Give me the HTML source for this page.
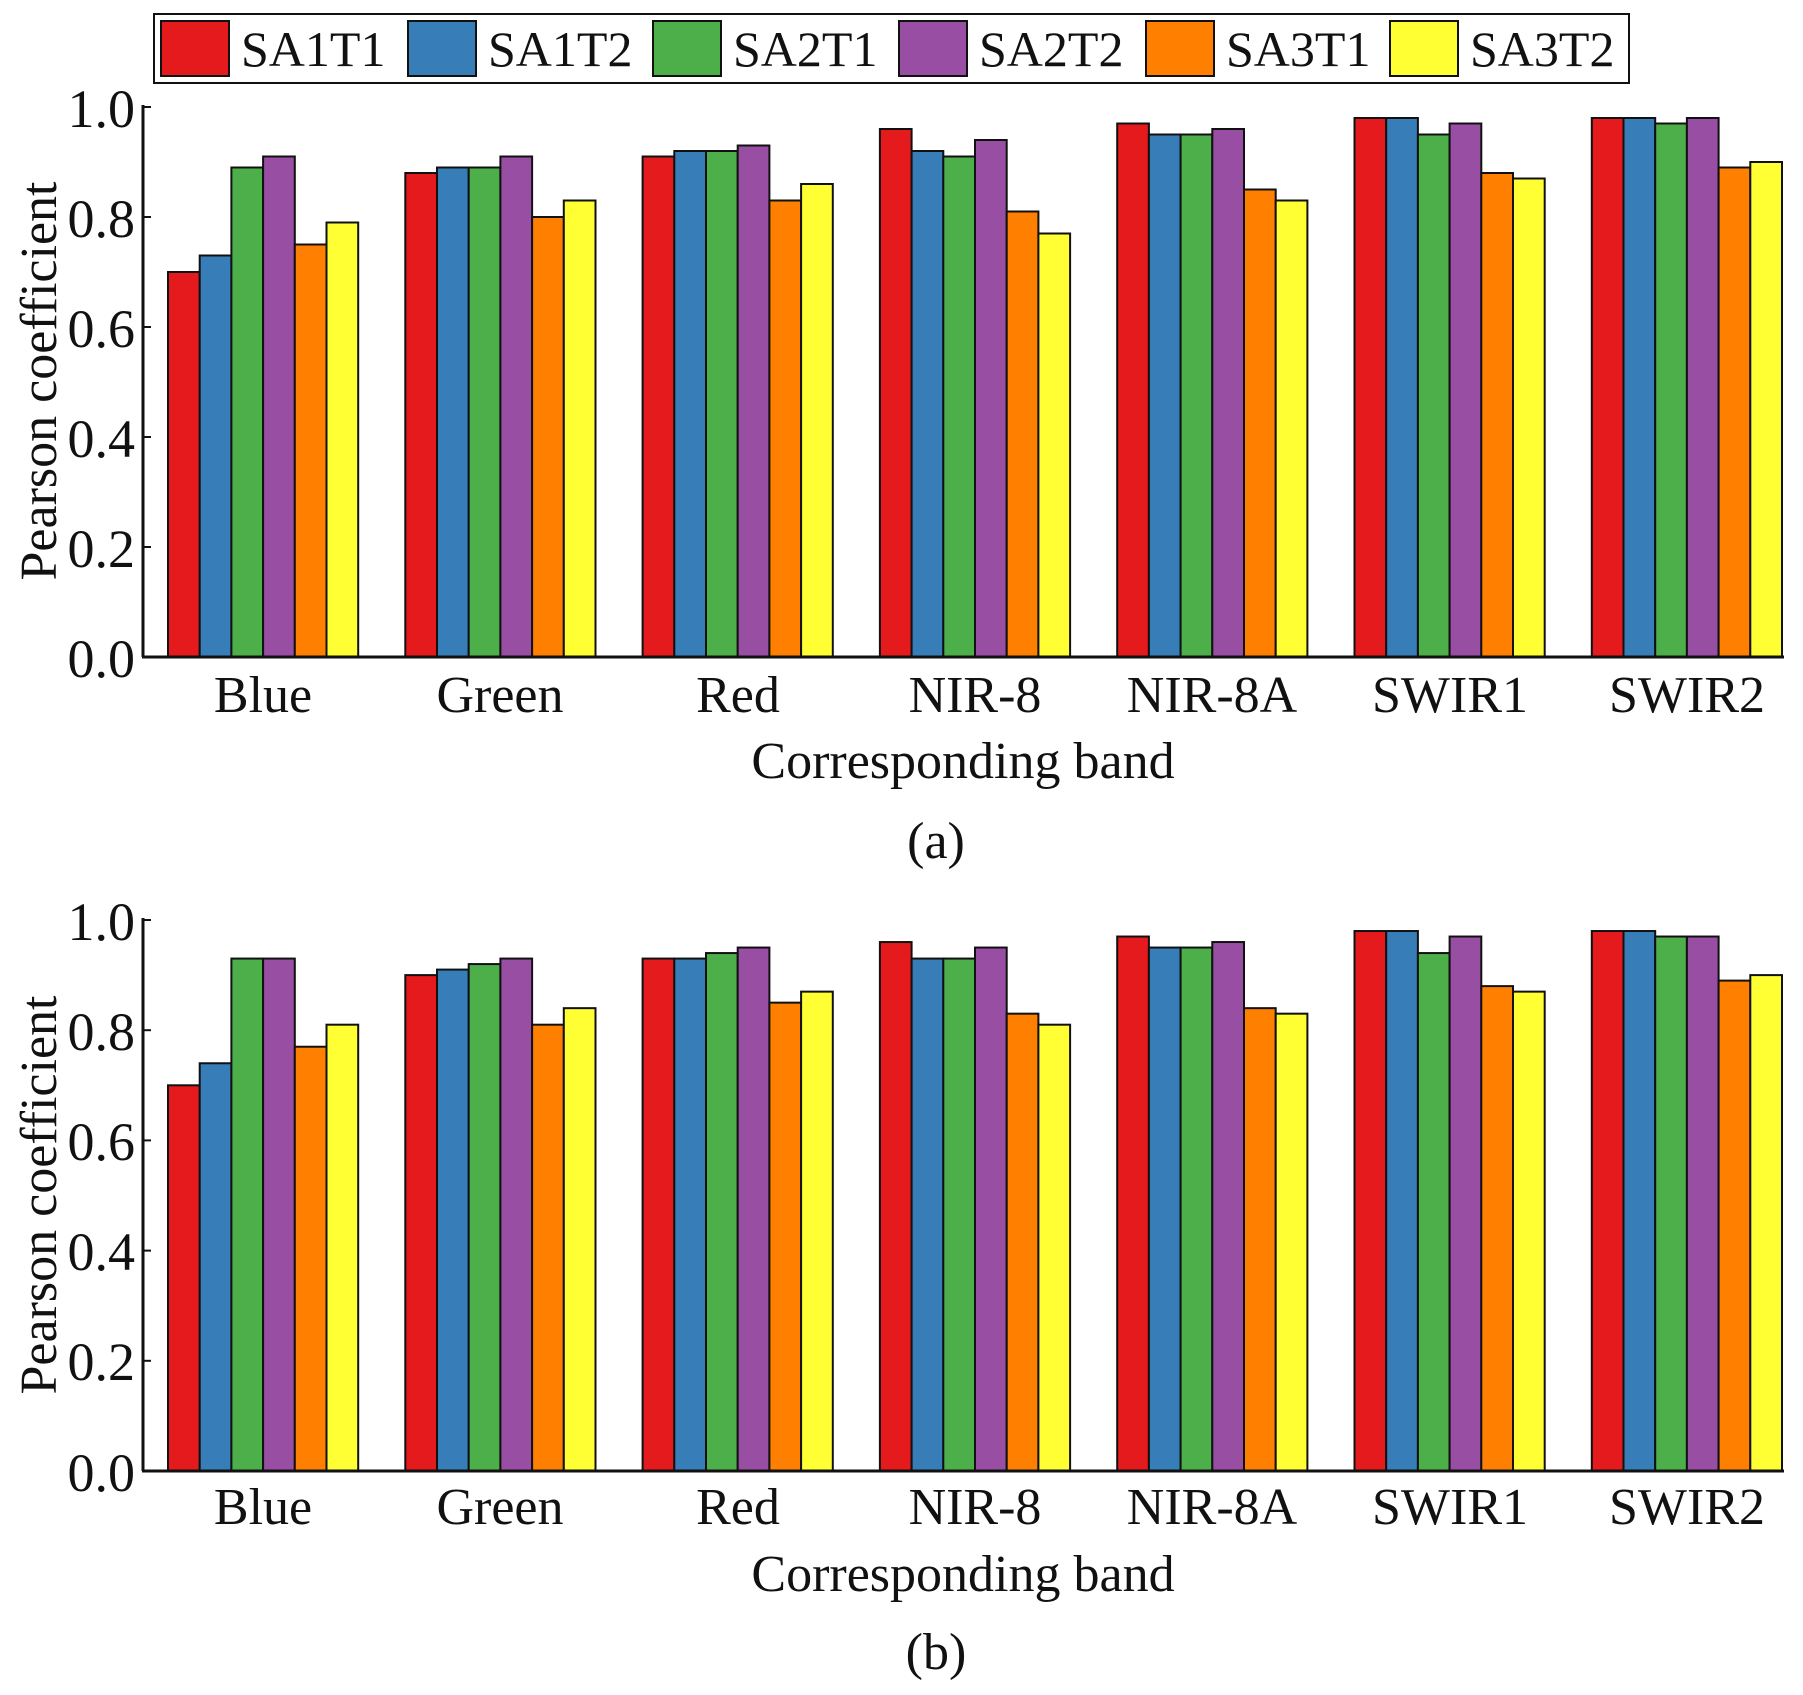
<!DOCTYPE html>
<html><head><meta charset="utf-8"><style>
html,body{margin:0;padding:0;background:#fff}
svg{display:block}
text{font-family:"Liberation Serif",serif;fill:#111}
</style></head><body>
<svg id="s" width="1803" height="1695" viewBox="0 0 1803 1695" xmlns="http://www.w3.org/2000/svg">
<rect x="154" y="14" width="1475" height="69" fill="#fff" stroke="#111" stroke-width="2"/>
<g font-size="50">
<rect x="161" y="21" width="68" height="55" fill="#e41a1c" stroke="#111" stroke-width="2"/><text x="241" y="66">SA1T1</text>
<rect x="408" y="21" width="68" height="55" fill="#377eb8" stroke="#111" stroke-width="2"/><text x="488" y="66">SA1T2</text>
<rect x="653" y="21" width="68" height="55" fill="#4daf4a" stroke="#111" stroke-width="2"/><text x="733" y="66">SA2T1</text>
<rect x="899" y="21" width="68" height="55" fill="#984ea3" stroke="#111" stroke-width="2"/><text x="979" y="66">SA2T2</text>
<rect x="1146" y="21" width="68" height="55" fill="#ff7f00" stroke="#111" stroke-width="2"/><text x="1226" y="66">SA3T1</text>
<rect x="1390" y="21" width="68" height="55" fill="#ffff33" stroke="#111" stroke-width="2"/><text x="1470" y="66">SA3T2</text>
</g>
<g id="pa"></g><g id="pb"></g>
<g font-size="54" text-anchor="end">
<text x="135" y="127">1.0</text><text x="135" y="237">0.8</text><text x="135" y="347">0.6</text><text x="135" y="457">0.4</text><text x="135" y="567">0.2</text><text x="135" y="677">0.0</text>
<text x="135" y="940">1.0</text><text x="135" y="1050">0.8</text><text x="135" y="1160">0.6</text><text x="135" y="1270">0.4</text><text x="135" y="1380">0.2</text><text x="135" y="1491">0.0</text>
</g>
<g font-size="52" text-anchor="middle">
<text x="263" y="712">Blue</text><text x="500" y="712">Green</text><text x="738" y="712">Red</text><text x="975" y="712">NIR-8</text><text x="1212" y="712">NIR-8A</text><text x="1450" y="712">SWIR1</text><text x="1687" y="712">SWIR2</text>
<text x="263" y="1524">Blue</text><text x="500" y="1524">Green</text><text x="738" y="1524">Red</text><text x="975" y="1524">NIR-8</text><text x="1212" y="1524">NIR-8A</text><text x="1450" y="1524">SWIR1</text><text x="1687" y="1524">SWIR2</text>
<text x="963" y="778">Corresponding band</text>
<text x="936" y="858">(a)</text>
<text x="963" y="1591">Corresponding band</text>
<text x="936" y="1669">(b)</text>
<text transform="translate(56,381) rotate(-90)">Pearson coefficient</text>
<text transform="translate(56,1195) rotate(-90)">Pearson coefficient</text>
</g>
</svg>
<script>
var C=["#e41a1c","#377eb8","#4daf4a","#984ea3","#ff7f00","#ffff33"];
var A=[[.70,.73,.89,.91,.75,.79],[.88,.89,.89,.91,.80,.83],[.91,.92,.92,.93,.83,.86],[.96,.92,.91,.94,.81,.77],[.97,.95,.95,.96,.85,.83],[.98,.98,.95,.97,.88,.87],[.98,.98,.97,.98,.89,.90]];
var B=[[.70,.74,.93,.93,.77,.81],[.90,.91,.92,.93,.81,.84],[.93,.93,.94,.95,.85,.87],[.96,.93,.93,.95,.83,.81],[.97,.95,.95,.96,.84,.83],[.98,.98,.94,.97,.88,.87],[.98,.98,.97,.97,.89,.90]];
function draw(id,D,y0,h){var g=document.getElementById(id),s="";
for(var i=0;i<7;i++)for(var j=0;j<6;j++){var x=168+i*237.3+j*31.7,v=D[i][j]*h;
s+='<rect x="'+x+'" y="'+(y0-v)+'" width="31.7" height="'+v+'" fill="'+C[j]+'" stroke="#111" stroke-width="2"/>';}
s+='<line x1="143" y1="'+(y0-h-2)+'" x2="143" y2="'+y0+'" stroke="#111" stroke-width="3"/>';
s+='<line x1="142" y1="'+y0+'" x2="1784" y2="'+y0+'" stroke="#111" stroke-width="3"/>';
for(var k=0;k<=5;k++){var yy=y0-k*h/5;s+='<line x1="143" y1="'+yy+'" x2="151" y2="'+yy+'" stroke="#111" stroke-width="2"/>';}
g.innerHTML=s;}
draw("pa",A,657,550);draw("pb",B,1471,551);
</script>
</body></html>
